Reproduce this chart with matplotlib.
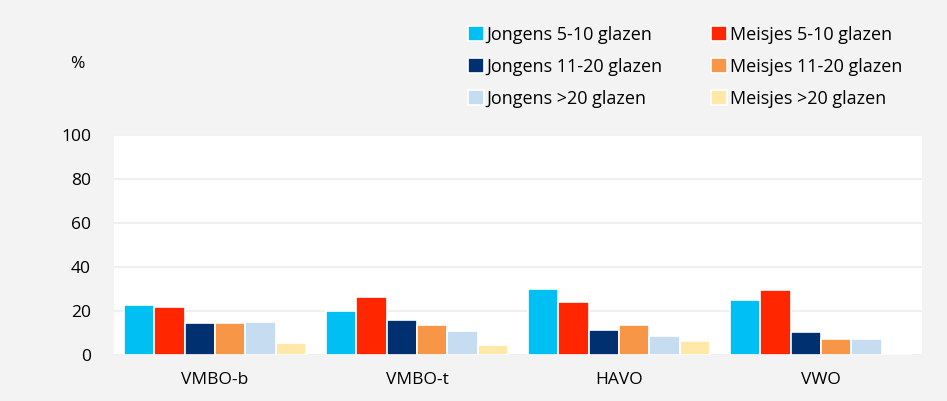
import matplotlib
matplotlib.use('Agg')
import matplotlib.pyplot as plt
import numpy as np

# data
categories = ["VMBO-b", "VMBO-t", "HAVO", "VWO"]
series_names = ["Jongens 5-10 glazen", "Meisjes 5-10 glazen",
                "Jongens 11-20 glazen", "Meisjes 11-20 glazen",
                "Jongens >20 glazen", "Meisjes >20 glazen"]
jongens_5_10 = [22.7, 19.8, 29.8, 24.8]
meisjes_5_10 = [21.8, 26.4, 23.9, 29.4]
jongens_11_20 = [14.5, 15.8, 11.5, 10.3]
meisjes_11_20 = [14.5, 13.8, 13.8, 7.3]
jongens_20plus = [15.0, 10.9, 8.8, 7.3]
meisjes_20plus = [5.5, 4.4, 6.4, 0.0]
yticks = [0, 20, 40, 60, 80, 100]

colors = ["#00BFF3", "#FF2600", "#003070", "#F79646", "#C6DCF0", "#FFE8A8"]
values = [jongens_5_10, meisjes_5_10, jongens_11_20,
          meisjes_11_20, jongens_20plus, meisjes_20plus]

plt.rcParams['font.family'] = ['Open Sans', 'DejaVu Sans']

fig = plt.figure(figsize=(9.47, 4.01), dpi=100, facecolor="#f3f3f3")
ax = fig.add_axes([0.1204, 0.1147, 0.8532, 0.5486])
ax.set_facecolor("white")

x = np.arange(len(categories))
step = 0.15
handles = []
for i, (vals, col, name) in enumerate(zip(values, colors, series_names)):
    offs = (i - 2.5) * step
    h = ax.bar(x + offs, vals, width=step, color=col, edgecolor="white",
               linewidth=1.2, label=name, zorder=3)
    handles.append(h)

ax.set_xlim(-0.5, len(categories) - 0.5)
ax.set_ylim(0, 100)
ax.set_yticks(yticks)
ax.set_xticks(x)
ax.set_xticklabels(categories, fontsize=12.5)
ax.tick_params(axis='y', labelsize=12.5, length=0, pad=16.5)
ax.tick_params(axis='x', length=0, pad=12)
ax.yaxis.grid(True, color="#f0f0f0", linewidth=1.5, zorder=0)
for s in ax.spines.values():
    s.set_visible(False)

fig.text(0.082, 0.84, "%", fontsize=12.5, ha='center', va='center')

order = [0, 2, 4, 1, 3, 5]
fig.legend([handles[k] for k in order], [series_names[k] for k in order],
           ncol=2, loc='upper left', bbox_to_anchor=(0.4805, 0.967),
           frameon=False, fontsize=13, handlelength=0.9, handleheight=0.9,
           handletextpad=0.15, columnspacing=2.65, labelspacing=0.78,
           borderaxespad=0.3)

fig.savefig("out.png", dpi=100, facecolor=fig.get_facecolor())
